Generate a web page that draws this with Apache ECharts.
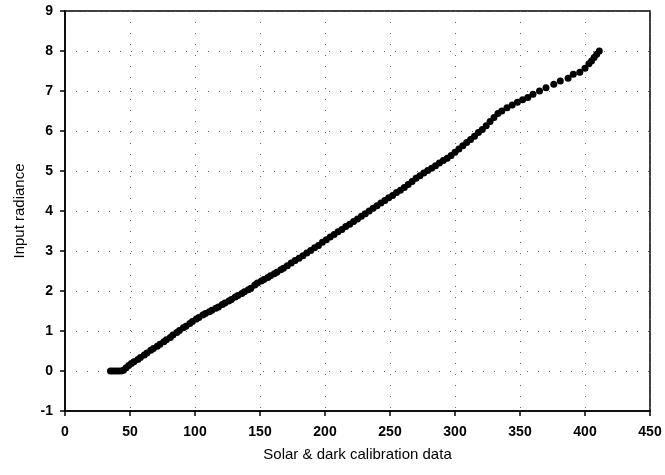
<!DOCTYPE html>
<html>
<head>
<meta charset="utf-8">
<script src="https://cdn.jsdelivr.net/npm/echarts@6/dist/echarts.min.js"></script>
<style>
html,body{margin:0;padding:0;background:#fff;}
#c{width:665px;height:475px;}
</style>
</head>
<body>
<div id="c"></div>
<script>
const xTitle = "Solar & dark calibration data";
const yTitle = "Input radiance";
const xTicks = [0,50,100,150,200,250,300,350,400,450];
const yTicks = [-1,0,1,2,3,4,5,6,7,8,9];
const calX = [35,37,39,41,43,45,47,49,51,53,56,58,61,63,66,68,71,73,76,78,81,83,86,88,91,93,96,98,101,103,106,108,111,113,116,118,121,123,126,128,131,133,136,138,141,143,146,148,151,153,156,158,161,163,166,168,171,174,177,180,183,186,189,192,195,198,201,204,207,210,213,216,219,222,225,228,231,234,237,240,243,246,249,252,255,258,261,264,267,270,273,276,279,282,285,288,291,294,297,300,303,306,309,312,315,318,321,324,327,330,333,336,340,344,348,352,356,360,365,370,376,381,387,391,396,400,403,405,407,409,411];
const radiance = [0,0,0,0,0,0.02,0.08,0.14,0.19,0.23,0.29,0.34,0.40,0.45,0.52,0.56,0.62,0.67,0.73,0.78,0.84,0.90,0.96,1.01,1.08,1.12,1.19,1.24,1.30,1.34,1.40,1.44,1.48,1.52,1.57,1.60,1.66,1.70,1.75,1.79,1.85,1.89,1.94,1.98,2.03,2.07,2.15,2.20,2.25,2.29,2.34,2.38,2.43,2.47,2.53,2.57,2.63,2.70,2.76,2.82,2.88,2.95,3.01,3.08,3.14,3.22,3.28,3.35,3.41,3.48,3.54,3.61,3.67,3.74,3.80,3.87,3.93,4.00,4.07,4.13,4.20,4.26,4.33,4.39,4.46,4.52,4.59,4.66,4.74,4.82,4.88,4.95,5.01,5.07,5.13,5.20,5.26,5.32,5.39,5.47,5.55,5.63,5.71,5.79,5.87,5.96,6.04,6.13,6.24,6.34,6.44,6.50,6.58,6.65,6.72,6.78,6.84,6.92,7.00,7.08,7.17,7.25,7.32,7.42,7.47,7.57,7.68,7.75,7.84,7.92,8.00];

const pts = calX.map((x,i)=>[x, radiance[i]]);
const chart = echarts.init(document.getElementById('c'), null, {renderer:'canvas'});
const font = 'Liberation Sans, Arial, sans-serif';
chart.setOption({
  animation:false,
  backgroundColor:'#fff',
  grid:{left:65, right:15, top:11, bottom:64, show:true, borderColor:'#000', borderWidth:1.5, backgroundColor:'transparent'},
  xAxis:{
    type:'value', min:xTicks[0], max:xTicks[xTicks.length-1], interval:50,
    name:xTitle, nameLocation:'middle', nameGap:36,
    nameTextStyle:{fontFamily:font, fontSize:15, color:'#000'},
    axisLine:{show:true, onZero:false, lineStyle:{color:'#000', width:1.5}},
    axisTick:{show:true, inside:false, length:5, lineStyle:{color:'#000', width:1.5}},
    axisLabel:{margin:14, fontFamily:font, fontSize:14, fontWeight:'bold', color:'#000'},
    splitLine:{show:true, lineStyle:{type:[1,10], color:'#666', width:1}}
  },
  yAxis:{
    type:'value', min:yTicks[0], max:yTicks[yTicks.length-1], interval:1,
    name:yTitle, nameLocation:'middle', nameGap:38, nameRotate:90,
    nameTextStyle:{fontFamily:font, fontSize:15, color:'#000'},
    axisLine:{show:true, onZero:false, lineStyle:{color:'#000', width:1.5}},
    axisTick:{show:true, inside:false, length:5, lineStyle:{color:'#000', width:1.5}},
    axisLabel:{margin:12, fontFamily:font, fontSize:14, fontWeight:'bold', color:'#000'},
    splitLine:{show:true, lineStyle:{type:[1,10], color:'#666', width:1}}
  },
  series:[{
    type:'scatter', data:pts, symbol:'circle', symbolSize:7,
    itemStyle:{color:'#000', opacity:1}
  }]
});
</script>
</body>
</html>
